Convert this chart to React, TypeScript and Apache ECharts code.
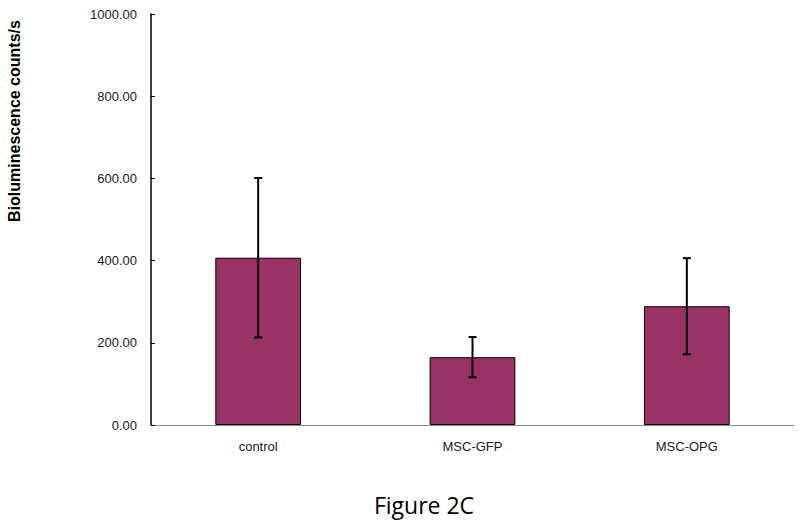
import React, { useEffect, useRef } from "react";
import * as echarts from "echarts";

const categories = ["control", "MSC-GFP", "MSC-OPG"];
const means = [407, 165, 289];
const errors = [194, 49, 117];
const yTicks = { min: 0, max: 1000, interval: 200 };

export default function App() {
  const ref = useRef<HTMLDivElement>(null);
  useEffect(() => {
    const chart = echarts.init(ref.current!, null, { renderer: "svg" });
    const errData = categories.map((_, i) => [i, means[i] - errors[i], means[i] + errors[i]]);
    chart.setOption({
      animation: false,
      backgroundColor: "#ffffff",
      grid: { left: 151, top: 14, right: 6, bottom: 97 },
      xAxis: {
        type: "category",
        data: categories,
        axisLine: { lineStyle: { color: "#8c8c8c", width: 1 } },
        axisTick: { show: false },
        axisLabel: { color: "#1a1a1a", fontFamily: "Liberation Sans", fontSize: 13, margin: 15 },
      },
      yAxis: {
        type: "value",
        min: yTicks.min,
        max: yTicks.max,
        interval: yTicks.interval,
        splitLine: { show: false },
        axisLine: { show: true, lineStyle: { color: "#000", width: 1.5 } },
        axisTick: { show: true, inside: true, length: 4, lineStyle: { color: "#000" } },
        axisLabel: {
          color: "#1a1a1a",
          fontFamily: "Liberation Sans",
          fontSize: 13,
          margin: 14,
          formatter: (v: number) => v.toFixed(2),
        },
      },
      graphic: [
        {
          type: "text",
          x: 14,
          y: 121,
          rotation: Math.PI / 2,
          style: {
            text: "Bioluminescence counts/s",
            fontFamily: "Liberation Sans",
            fontWeight: "bold",
            fontSize: 16,
            fill: "#000",
            align: "center",
            verticalAlign: "middle",
          },
        },
        {
          type: "text",
          x: 424,
          y: 505,
          style: {
            text: "Figure 2C",
            fontFamily: "Open Sans",
            fontSize: 23,
            fill: "#000",
            align: "center",
            verticalAlign: "middle",
          },
        },
      ],
      series: [
        {
          type: "bar",
          data: means,
          barWidth: "40%",
          itemStyle: { color: "#993366", borderColor: "#000", borderWidth: 1 },
        },
        {
          type: "custom",
          data: errData,
          z: 10,
          renderItem: (params: any, api: any) => {
            const x = api.value(0);
            const lo = api.coord([x, api.value(1)]);
            const hi = api.coord([x, api.value(2)]);
            const cap = 4;
            const style = { stroke: "#000", lineWidth: 2 };
            return {
              type: "group",
              children: [
                { type: "line", shape: { x1: lo[0], y1: lo[1], x2: hi[0], y2: hi[1] }, style },
                { type: "line", shape: { x1: lo[0] - cap, y1: lo[1], x2: lo[0] + cap, y2: lo[1] }, style },
                { type: "line", shape: { x1: hi[0] - cap, y1: hi[1], x2: hi[0] + cap, y2: hi[1] }, style },
              ],
            };
          },
        },
      ],
    });
    return () => chart.dispose();
  }, []);
  return (
    <div
      ref={ref}
      style={{ position: "absolute", left: 0, top: 0, width: 800, height: 522 }}
    />
  );
}
